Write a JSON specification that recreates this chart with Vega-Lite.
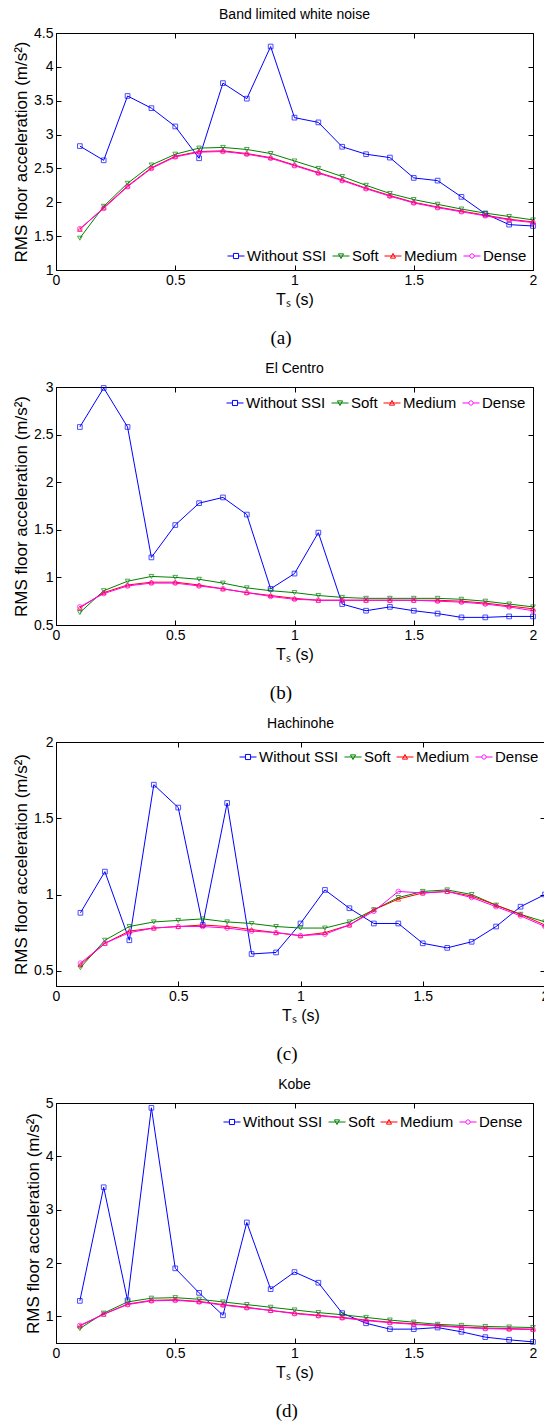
{
  "$schema": "https://vega.github.io/schema/vega-lite/v6.json",
  "background": "white",
  "padding": {"left": 12, "top": 7, "right": 0, "bottom": 0},
  "spacing": 13,
  "resolve": {"scale": {"color": "independent", "shape": "independent"}, "legend": {"color": "independent", "shape": "independent"}},
  "config": {
    "font": "Liberation Sans",
    "view": {"stroke": "black", "strokeWidth": 1},
    "axis": {"grid": false, "domainColor": "black", "tickColor": "black", "labelColor": "black", "titleColor": "black", "labelFont": "Liberation Sans", "labelFontSize": 14, "titleFont": "Liberation Sans", "titleFontSize": 16, "titleFontWeight": "normal", "tickSize": -5, "labelPadding": 8, "labelFlush": false, "format": "~g"},
    "axisY": {"titleFontSize": 17},
    "title": {"font": "Liberation Sans", "fontSize": 14, "fontWeight": "normal", "color": "black", "frame": "group", "offset": 4},
    "legend": {"labelFont": "Liberation Sans", "labelFontSize": 15, "labelColor": "black", "symbolSize": 289, "symbolStrokeWidth": 1, "symbolOpacity": 1, "symbolFillColor": "transparent", "labelOffset": 2, "columnPadding": 3, "padding": 0}
  },
  "data": {"values": [
    {"panel":"a","series":"Without SSI","Ts":0.1,"value":2.83},{"panel":"a","series":"Without SSI","Ts":0.2,"value":2.62},{"panel":"a","series":"Without SSI","Ts":0.3,"value":3.57},{"panel":"a","series":"Without SSI","Ts":0.4,"value":3.39},{"panel":"a","series":"Without SSI","Ts":0.5,"value":3.12},{"panel":"a","series":"Without SSI","Ts":0.6,"value":2.65},{"panel":"a","series":"Without SSI","Ts":0.7,"value":3.76},{"panel":"a","series":"Without SSI","Ts":0.8,"value":3.53},{"panel":"a","series":"Without SSI","Ts":0.9,"value":4.30},{"panel":"a","series":"Without SSI","Ts":1.0,"value":3.25},{"panel":"a","series":"Without SSI","Ts":1.1,"value":3.18},{"panel":"a","series":"Without SSI","Ts":1.2,"value":2.82},{"panel":"a","series":"Without SSI","Ts":1.3,"value":2.71},{"panel":"a","series":"Without SSI","Ts":1.4,"value":2.66},{"panel":"a","series":"Without SSI","Ts":1.5,"value":2.36},{"panel":"a","series":"Without SSI","Ts":1.6,"value":2.32},{"panel":"a","series":"Without SSI","Ts":1.7,"value":2.08},{"panel":"a","series":"Without SSI","Ts":1.8,"value":1.83},{"panel":"a","series":"Without SSI","Ts":1.9,"value":1.67},{"panel":"a","series":"Without SSI","Ts":2.0,"value":1.65},
    {"panel":"a","series":"Soft","Ts":0.1,"value":1.47},{"panel":"a","series":"Soft","Ts":0.2,"value":1.94},{"panel":"a","series":"Soft","Ts":0.3,"value":2.28},{"panel":"a","series":"Soft","Ts":0.4,"value":2.55},{"panel":"a","series":"Soft","Ts":0.5,"value":2.71},{"panel":"a","series":"Soft","Ts":0.6,"value":2.80},{"panel":"a","series":"Soft","Ts":0.7,"value":2.81},{"panel":"a","series":"Soft","Ts":0.8,"value":2.78},{"panel":"a","series":"Soft","Ts":0.9,"value":2.72},{"panel":"a","series":"Soft","Ts":1.0,"value":2.61},{"panel":"a","series":"Soft","Ts":1.1,"value":2.50},{"panel":"a","series":"Soft","Ts":1.2,"value":2.38},{"panel":"a","series":"Soft","Ts":1.3,"value":2.25},{"panel":"a","series":"Soft","Ts":1.4,"value":2.13},{"panel":"a","series":"Soft","Ts":1.5,"value":2.04},{"panel":"a","series":"Soft","Ts":1.6,"value":1.97},{"panel":"a","series":"Soft","Ts":1.7,"value":1.90},{"panel":"a","series":"Soft","Ts":1.8,"value":1.84},{"panel":"a","series":"Soft","Ts":1.9,"value":1.79},{"panel":"a","series":"Soft","Ts":2.0,"value":1.74},
    {"panel":"a","series":"Medium","Ts":0.1,"value":1.60},{"panel":"a","series":"Medium","Ts":0.2,"value":1.92},{"panel":"a","series":"Medium","Ts":0.3,"value":2.24},{"panel":"a","series":"Medium","Ts":0.4,"value":2.51},{"panel":"a","series":"Medium","Ts":0.5,"value":2.68},{"panel":"a","series":"Medium","Ts":0.6,"value":2.75},{"panel":"a","series":"Medium","Ts":0.7,"value":2.76},{"panel":"a","series":"Medium","Ts":0.8,"value":2.72},{"panel":"a","series":"Medium","Ts":0.9,"value":2.66},{"panel":"a","series":"Medium","Ts":1.0,"value":2.55},{"panel":"a","series":"Medium","Ts":1.1,"value":2.44},{"panel":"a","series":"Medium","Ts":1.2,"value":2.33},{"panel":"a","series":"Medium","Ts":1.3,"value":2.21},{"panel":"a","series":"Medium","Ts":1.4,"value":2.10},{"panel":"a","series":"Medium","Ts":1.5,"value":2.00},{"panel":"a","series":"Medium","Ts":1.6,"value":1.93},{"panel":"a","series":"Medium","Ts":1.7,"value":1.87},{"panel":"a","series":"Medium","Ts":1.8,"value":1.81},{"panel":"a","series":"Medium","Ts":1.9,"value":1.75},{"panel":"a","series":"Medium","Ts":2.0,"value":1.71},
    {"panel":"a","series":"Dense","Ts":0.1,"value":1.61},{"panel":"a","series":"Dense","Ts":0.2,"value":1.91},{"panel":"a","series":"Dense","Ts":0.3,"value":2.23},{"panel":"a","series":"Dense","Ts":0.4,"value":2.50},{"panel":"a","series":"Dense","Ts":0.5,"value":2.67},{"panel":"a","series":"Dense","Ts":0.6,"value":2.74},{"panel":"a","series":"Dense","Ts":0.7,"value":2.75},{"panel":"a","series":"Dense","Ts":0.8,"value":2.71},{"panel":"a","series":"Dense","Ts":0.9,"value":2.65},{"panel":"a","series":"Dense","Ts":1.0,"value":2.54},{"panel":"a","series":"Dense","Ts":1.1,"value":2.43},{"panel":"a","series":"Dense","Ts":1.2,"value":2.32},{"panel":"a","series":"Dense","Ts":1.3,"value":2.20},{"panel":"a","series":"Dense","Ts":1.4,"value":2.09},{"panel":"a","series":"Dense","Ts":1.5,"value":1.99},{"panel":"a","series":"Dense","Ts":1.6,"value":1.92},{"panel":"a","series":"Dense","Ts":1.7,"value":1.86},{"panel":"a","series":"Dense","Ts":1.8,"value":1.80},{"panel":"a","series":"Dense","Ts":1.9,"value":1.74},{"panel":"a","series":"Dense","Ts":2.0,"value":1.70},
    {"panel":"b","series":"Without SSI","Ts":0.1,"value":2.58},{"panel":"b","series":"Without SSI","Ts":0.2,"value":2.99},{"panel":"b","series":"Without SSI","Ts":0.3,"value":2.58},{"panel":"b","series":"Without SSI","Ts":0.4,"value":1.21},{"panel":"b","series":"Without SSI","Ts":0.5,"value":1.55},{"panel":"b","series":"Without SSI","Ts":0.6,"value":1.78},{"panel":"b","series":"Without SSI","Ts":0.7,"value":1.84},{"panel":"b","series":"Without SSI","Ts":0.8,"value":1.66},{"panel":"b","series":"Without SSI","Ts":0.9,"value":0.88},{"panel":"b","series":"Without SSI","Ts":1.0,"value":1.04},{"panel":"b","series":"Without SSI","Ts":1.1,"value":1.47},{"panel":"b","series":"Without SSI","Ts":1.2,"value":0.72},{"panel":"b","series":"Without SSI","Ts":1.3,"value":0.65},{"panel":"b","series":"Without SSI","Ts":1.4,"value":0.69},{"panel":"b","series":"Without SSI","Ts":1.5,"value":0.65},{"panel":"b","series":"Without SSI","Ts":1.6,"value":0.62},{"panel":"b","series":"Without SSI","Ts":1.7,"value":0.58},{"panel":"b","series":"Without SSI","Ts":1.8,"value":0.58},{"panel":"b","series":"Without SSI","Ts":1.9,"value":0.59},{"panel":"b","series":"Without SSI","Ts":2.0,"value":0.59},
    {"panel":"b","series":"Soft","Ts":0.1,"value":0.63},{"panel":"b","series":"Soft","Ts":0.2,"value":0.86},{"panel":"b","series":"Soft","Ts":0.3,"value":0.96},{"panel":"b","series":"Soft","Ts":0.4,"value":1.01},{"panel":"b","series":"Soft","Ts":0.5,"value":1.00},{"panel":"b","series":"Soft","Ts":0.6,"value":0.98},{"panel":"b","series":"Soft","Ts":0.7,"value":0.94},{"panel":"b","series":"Soft","Ts":0.8,"value":0.89},{"panel":"b","series":"Soft","Ts":0.9,"value":0.86},{"panel":"b","series":"Soft","Ts":1.0,"value":0.84},{"panel":"b","series":"Soft","Ts":1.1,"value":0.81},{"panel":"b","series":"Soft","Ts":1.2,"value":0.79},{"panel":"b","series":"Soft","Ts":1.3,"value":0.78},{"panel":"b","series":"Soft","Ts":1.4,"value":0.78},{"panel":"b","series":"Soft","Ts":1.5,"value":0.78},{"panel":"b","series":"Soft","Ts":1.6,"value":0.78},{"panel":"b","series":"Soft","Ts":1.7,"value":0.77},{"panel":"b","series":"Soft","Ts":1.8,"value":0.75},{"panel":"b","series":"Soft","Ts":1.9,"value":0.72},{"panel":"b","series":"Soft","Ts":2.0,"value":0.69},
    {"panel":"b","series":"Medium","Ts":0.1,"value":0.68},{"panel":"b","series":"Medium","Ts":0.2,"value":0.84},{"panel":"b","series":"Medium","Ts":0.3,"value":0.92},{"panel":"b","series":"Medium","Ts":0.4,"value":0.95},{"panel":"b","series":"Medium","Ts":0.5,"value":0.95},{"panel":"b","series":"Medium","Ts":0.6,"value":0.92},{"panel":"b","series":"Medium","Ts":0.7,"value":0.88},{"panel":"b","series":"Medium","Ts":0.8,"value":0.84},{"panel":"b","series":"Medium","Ts":0.9,"value":0.81},{"panel":"b","series":"Medium","Ts":1.0,"value":0.78},{"panel":"b","series":"Medium","Ts":1.1,"value":0.76},{"panel":"b","series":"Medium","Ts":1.2,"value":0.76},{"panel":"b","series":"Medium","Ts":1.3,"value":0.76},{"panel":"b","series":"Medium","Ts":1.4,"value":0.76},{"panel":"b","series":"Medium","Ts":1.5,"value":0.76},{"panel":"b","series":"Medium","Ts":1.6,"value":0.76},{"panel":"b","series":"Medium","Ts":1.7,"value":0.75},{"panel":"b","series":"Medium","Ts":1.8,"value":0.73},{"panel":"b","series":"Medium","Ts":1.9,"value":0.70},{"panel":"b","series":"Medium","Ts":2.0,"value":0.67},
    {"panel":"b","series":"Dense","Ts":0.1,"value":0.69},{"panel":"b","series":"Dense","Ts":0.2,"value":0.83},{"panel":"b","series":"Dense","Ts":0.3,"value":0.91},{"panel":"b","series":"Dense","Ts":0.4,"value":0.94},{"panel":"b","series":"Dense","Ts":0.5,"value":0.94},{"panel":"b","series":"Dense","Ts":0.6,"value":0.91},{"panel":"b","series":"Dense","Ts":0.7,"value":0.88},{"panel":"b","series":"Dense","Ts":0.8,"value":0.84},{"panel":"b","series":"Dense","Ts":0.9,"value":0.80},{"panel":"b","series":"Dense","Ts":1.0,"value":0.77},{"panel":"b","series":"Dense","Ts":1.1,"value":0.76},{"panel":"b","series":"Dense","Ts":1.2,"value":0.76},{"panel":"b","series":"Dense","Ts":1.3,"value":0.76},{"panel":"b","series":"Dense","Ts":1.4,"value":0.76},{"panel":"b","series":"Dense","Ts":1.5,"value":0.76},{"panel":"b","series":"Dense","Ts":1.6,"value":0.75},{"panel":"b","series":"Dense","Ts":1.7,"value":0.74},{"panel":"b","series":"Dense","Ts":1.8,"value":0.72},{"panel":"b","series":"Dense","Ts":1.9,"value":0.69},{"panel":"b","series":"Dense","Ts":2.0,"value":0.65},
    {"panel":"c","series":"Without SSI","Ts":0.1,"value":0.88},{"panel":"c","series":"Without SSI","Ts":0.2,"value":1.15},{"panel":"c","series":"Without SSI","Ts":0.3,"value":0.70},{"panel":"c","series":"Without SSI","Ts":0.4,"value":1.72},{"panel":"c","series":"Without SSI","Ts":0.5,"value":1.57},{"panel":"c","series":"Without SSI","Ts":0.6,"value":0.80},{"panel":"c","series":"Without SSI","Ts":0.7,"value":1.60},{"panel":"c","series":"Without SSI","Ts":0.8,"value":0.61},{"panel":"c","series":"Without SSI","Ts":0.9,"value":0.62},{"panel":"c","series":"Without SSI","Ts":1.0,"value":0.81},{"panel":"c","series":"Without SSI","Ts":1.1,"value":1.03},{"panel":"c","series":"Without SSI","Ts":1.2,"value":0.91},{"panel":"c","series":"Without SSI","Ts":1.3,"value":0.81},{"panel":"c","series":"Without SSI","Ts":1.4,"value":0.81},{"panel":"c","series":"Without SSI","Ts":1.5,"value":0.68},{"panel":"c","series":"Without SSI","Ts":1.6,"value":0.65},{"panel":"c","series":"Without SSI","Ts":1.7,"value":0.69},{"panel":"c","series":"Without SSI","Ts":1.8,"value":0.79},{"panel":"c","series":"Without SSI","Ts":1.9,"value":0.92},{"panel":"c","series":"Without SSI","Ts":2.0,"value":1.00},
    {"panel":"c","series":"Soft","Ts":0.1,"value":0.52},{"panel":"c","series":"Soft","Ts":0.2,"value":0.70},{"panel":"c","series":"Soft","Ts":0.3,"value":0.79},{"panel":"c","series":"Soft","Ts":0.4,"value":0.82},{"panel":"c","series":"Soft","Ts":0.5,"value":0.83},{"panel":"c","series":"Soft","Ts":0.6,"value":0.84},{"panel":"c","series":"Soft","Ts":0.7,"value":0.82},{"panel":"c","series":"Soft","Ts":0.8,"value":0.81},{"panel":"c","series":"Soft","Ts":0.9,"value":0.79},{"panel":"c","series":"Soft","Ts":1.0,"value":0.78},{"panel":"c","series":"Soft","Ts":1.1,"value":0.78},{"panel":"c","series":"Soft","Ts":1.2,"value":0.82},{"panel":"c","series":"Soft","Ts":1.3,"value":0.90},{"panel":"c","series":"Soft","Ts":1.4,"value":0.98},{"panel":"c","series":"Soft","Ts":1.5,"value":1.02},{"panel":"c","series":"Soft","Ts":1.6,"value":1.03},{"panel":"c","series":"Soft","Ts":1.7,"value":1.00},{"panel":"c","series":"Soft","Ts":1.8,"value":0.93},{"panel":"c","series":"Soft","Ts":1.9,"value":0.87},{"panel":"c","series":"Soft","Ts":2.0,"value":0.82},
    {"panel":"c","series":"Medium","Ts":0.1,"value":0.54},{"panel":"c","series":"Medium","Ts":0.2,"value":0.68},{"panel":"c","series":"Medium","Ts":0.3,"value":0.76},{"panel":"c","series":"Medium","Ts":0.4,"value":0.78},{"panel":"c","series":"Medium","Ts":0.5,"value":0.79},{"panel":"c","series":"Medium","Ts":0.6,"value":0.80},{"panel":"c","series":"Medium","Ts":0.7,"value":0.79},{"panel":"c","series":"Medium","Ts":0.8,"value":0.77},{"panel":"c","series":"Medium","Ts":0.9,"value":0.75},{"panel":"c","series":"Medium","Ts":1.0,"value":0.73},{"panel":"c","series":"Medium","Ts":1.1,"value":0.75},{"panel":"c","series":"Medium","Ts":1.2,"value":0.80},{"panel":"c","series":"Medium","Ts":1.3,"value":0.90},{"panel":"c","series":"Medium","Ts":1.4,"value":0.97},{"panel":"c","series":"Medium","Ts":1.5,"value":1.01},{"panel":"c","series":"Medium","Ts":1.6,"value":1.02},{"panel":"c","series":"Medium","Ts":1.7,"value":0.99},{"panel":"c","series":"Medium","Ts":1.8,"value":0.93},{"panel":"c","series":"Medium","Ts":1.9,"value":0.87},{"panel":"c","series":"Medium","Ts":2.0,"value":0.80},
    {"panel":"c","series":"Dense","Ts":0.1,"value":0.55},{"panel":"c","series":"Dense","Ts":0.2,"value":0.68},{"panel":"c","series":"Dense","Ts":0.3,"value":0.75},{"panel":"c","series":"Dense","Ts":0.4,"value":0.78},{"panel":"c","series":"Dense","Ts":0.5,"value":0.79},{"panel":"c","series":"Dense","Ts":0.6,"value":0.79},{"panel":"c","series":"Dense","Ts":0.7,"value":0.78},{"panel":"c","series":"Dense","Ts":0.8,"value":0.76},{"panel":"c","series":"Dense","Ts":0.9,"value":0.75},{"panel":"c","series":"Dense","Ts":1.0,"value":0.73},{"panel":"c","series":"Dense","Ts":1.1,"value":0.74},{"panel":"c","series":"Dense","Ts":1.2,"value":0.80},{"panel":"c","series":"Dense","Ts":1.3,"value":0.89},{"panel":"c","series":"Dense","Ts":1.4,"value":1.02},{"panel":"c","series":"Dense","Ts":1.5,"value":1.01},{"panel":"c","series":"Dense","Ts":1.6,"value":1.02},{"panel":"c","series":"Dense","Ts":1.7,"value":0.98},{"panel":"c","series":"Dense","Ts":1.8,"value":0.92},{"panel":"c","series":"Dense","Ts":1.9,"value":0.86},{"panel":"c","series":"Dense","Ts":2.0,"value":0.79},
    {"panel":"d","series":"Without SSI","Ts":0.1,"value":1.29},{"panel":"d","series":"Without SSI","Ts":0.2,"value":3.42},{"panel":"d","series":"Without SSI","Ts":0.3,"value":1.30},{"panel":"d","series":"Without SSI","Ts":0.4,"value":4.91},{"panel":"d","series":"Without SSI","Ts":0.5,"value":1.90},{"panel":"d","series":"Without SSI","Ts":0.6,"value":1.44},{"panel":"d","series":"Without SSI","Ts":0.7,"value":1.02},{"panel":"d","series":"Without SSI","Ts":0.8,"value":2.76},{"panel":"d","series":"Without SSI","Ts":0.9,"value":1.51},{"panel":"d","series":"Without SSI","Ts":1.0,"value":1.83},{"panel":"d","series":"Without SSI","Ts":1.1,"value":1.63},{"panel":"d","series":"Without SSI","Ts":1.2,"value":1.06},{"panel":"d","series":"Without SSI","Ts":1.3,"value":0.87},{"panel":"d","series":"Without SSI","Ts":1.4,"value":0.76},{"panel":"d","series":"Without SSI","Ts":1.5,"value":0.76},{"panel":"d","series":"Without SSI","Ts":1.6,"value":0.79},{"panel":"d","series":"Without SSI","Ts":1.7,"value":0.71},{"panel":"d","series":"Without SSI","Ts":1.8,"value":0.61},{"panel":"d","series":"Without SSI","Ts":1.9,"value":0.56},{"panel":"d","series":"Without SSI","Ts":2.0,"value":0.52},
    {"panel":"d","series":"Soft","Ts":0.1,"value":0.77},{"panel":"d","series":"Soft","Ts":0.2,"value":1.06},{"panel":"d","series":"Soft","Ts":0.3,"value":1.27},{"panel":"d","series":"Soft","Ts":0.4,"value":1.34},{"panel":"d","series":"Soft","Ts":0.5,"value":1.35},{"panel":"d","series":"Soft","Ts":0.6,"value":1.32},{"panel":"d","series":"Soft","Ts":0.7,"value":1.27},{"panel":"d","series":"Soft","Ts":0.8,"value":1.22},{"panel":"d","series":"Soft","Ts":0.9,"value":1.17},{"panel":"d","series":"Soft","Ts":1.0,"value":1.12},{"panel":"d","series":"Soft","Ts":1.1,"value":1.07},{"panel":"d","series":"Soft","Ts":1.2,"value":1.03},{"panel":"d","series":"Soft","Ts":1.3,"value":0.98},{"panel":"d","series":"Soft","Ts":1.4,"value":0.93},{"panel":"d","series":"Soft","Ts":1.5,"value":0.89},{"panel":"d","series":"Soft","Ts":1.6,"value":0.85},{"panel":"d","series":"Soft","Ts":1.7,"value":0.83},{"panel":"d","series":"Soft","Ts":1.8,"value":0.81},{"panel":"d","series":"Soft","Ts":1.9,"value":0.80},{"panel":"d","series":"Soft","Ts":2.0,"value":0.79},
    {"panel":"d","series":"Medium","Ts":0.1,"value":0.82},{"panel":"d","series":"Medium","Ts":0.2,"value":1.04},{"panel":"d","series":"Medium","Ts":0.3,"value":1.23},{"panel":"d","series":"Medium","Ts":0.4,"value":1.30},{"panel":"d","series":"Medium","Ts":0.5,"value":1.31},{"panel":"d","series":"Medium","Ts":0.6,"value":1.28},{"panel":"d","series":"Medium","Ts":0.7,"value":1.22},{"panel":"d","series":"Medium","Ts":0.8,"value":1.17},{"panel":"d","series":"Medium","Ts":0.9,"value":1.11},{"panel":"d","series":"Medium","Ts":1.0,"value":1.06},{"panel":"d","series":"Medium","Ts":1.1,"value":1.02},{"panel":"d","series":"Medium","Ts":1.2,"value":0.98},{"panel":"d","series":"Medium","Ts":1.3,"value":0.93},{"panel":"d","series":"Medium","Ts":1.4,"value":0.89},{"panel":"d","series":"Medium","Ts":1.5,"value":0.86},{"panel":"d","series":"Medium","Ts":1.6,"value":0.83},{"panel":"d","series":"Medium","Ts":1.7,"value":0.80},{"panel":"d","series":"Medium","Ts":1.8,"value":0.78},{"panel":"d","series":"Medium","Ts":1.9,"value":0.77},{"panel":"d","series":"Medium","Ts":2.0,"value":0.76},
    {"panel":"d","series":"Dense","Ts":0.1,"value":0.83},{"panel":"d","series":"Dense","Ts":0.2,"value":1.04},{"panel":"d","series":"Dense","Ts":0.3,"value":1.22},{"panel":"d","series":"Dense","Ts":0.4,"value":1.29},{"panel":"d","series":"Dense","Ts":0.5,"value":1.30},{"panel":"d","series":"Dense","Ts":0.6,"value":1.27},{"panel":"d","series":"Dense","Ts":0.7,"value":1.21},{"panel":"d","series":"Dense","Ts":0.8,"value":1.16},{"panel":"d","series":"Dense","Ts":0.9,"value":1.11},{"panel":"d","series":"Dense","Ts":1.0,"value":1.05},{"panel":"d","series":"Dense","Ts":1.1,"value":1.01},{"panel":"d","series":"Dense","Ts":1.2,"value":0.97},{"panel":"d","series":"Dense","Ts":1.3,"value":0.92},{"panel":"d","series":"Dense","Ts":1.4,"value":0.88},{"panel":"d","series":"Dense","Ts":1.5,"value":0.85},{"panel":"d","series":"Dense","Ts":1.6,"value":0.82},{"panel":"d","series":"Dense","Ts":1.7,"value":0.79},{"panel":"d","series":"Dense","Ts":1.8,"value":0.77},{"panel":"d","series":"Dense","Ts":1.9,"value":0.76},{"panel":"d","series":"Dense","Ts":2.0,"value":0.75}
  ]},
  "vconcat": [
    {
      "title": {"text": "(a)", "orient": "bottom", "anchor": "middle", "frame": "bounds", "dx": 6, "font": "Liberation Serif", "fontSize": 19, "offset": 21},
      "resolve": {"scale": {"color": "independent", "shape": "independent"}, "legend": {"color": "independent", "shape": "independent"}},
      "vconcat": [{
        "title": {"text": "Band limited white noise"},
        "width": 477, "height": 237,
        "transform": [{"filter": "datum.panel === 'a'"}],
        "resolve": {"axis": {"x": "independent", "y": "independent"}},
        "layer": [
          {"mark": {"type": "line", "strokeWidth": 1},
           "encoding": {
             "x": {"field": "Ts", "type": "quantitative", "scale": {"domain": [0, 2], "nice": false}, "axis": {"values": [0, 0.5, 1, 1.5, 2], "title": "Tₛ (s)", "titlePadding": 4}},
             "y": {"field": "value", "type": "quantitative", "scale": {"domain": [1, 4.5], "nice": false, "zero": false}, "axis": {"values": [1, 1.5, 2, 2.5, 3, 3.5, 4, 4.5], "title": "RMS floor acceleration (m/s²)", "titlePadding": 3}},
             "color": {"field": "series", "type": "nominal", "scale": {"domain": ["Without SSI", "Soft", "Medium", "Dense"], "range": ["#0000ff", "#008000", "#ff0000", "#ff00ff"]}, "legend": {"title": null, "orient": "bottom-right", "direction": "horizontal", "offset": 6, "symbolSize": 289, "symbolOpacity": 1}}
           }},
          {"mark": {"type": "point", "filled": false, "size": 22, "strokeWidth": 1, "shape": {"expr": "datum.series === 'Without SSI' ? 'square' : datum.series === 'Soft' ? 'triangle-down' : datum.series === 'Medium' ? 'triangle-up' : 'circle'"}},
           "encoding": {
             "x": {"field": "Ts", "type": "quantitative", "axis": null},
             "y": {"field": "value", "type": "quantitative", "axis": null},
             "color": {"field": "series", "type": "nominal"}
           }},
          {"mark": {"type": "point", "filled": false, "size": 0, "strokeWidth": 1},
           "encoding": {
             "x": {"field": "Ts", "type": "quantitative", "axis": {"orient": "top", "values": [0, 0.5, 1, 1.5, 2], "labels": false, "title": null, "domain": false}},
             "y": {"field": "value", "type": "quantitative", "axis": {"orient": "right", "values": [1, 1.5, 2, 2.5, 3, 3.5, 4, 4.5], "labels": false, "title": null, "domain": false}},
             "color": {"field": "series", "type": "nominal", "legend": {"title": null, "orient": "bottom-right", "direction": "horizontal", "offset": 6, "symbolSize": 289, "symbolOpacity": 1}},
             "shape": {"field": "series", "type": "nominal", "scale": {"domain": ["Without SSI", "Soft", "Medium", "Dense"], "range": ["M-1,0H-0.3M0.3,0H1M-0.3,-0.3H0.3V0.3H-0.3Z", "M-1,0H1M-0.3,-0.25L0.3,-0.25L0,0.3Z", "M-1,0H1M-0.3,0.25L0.3,0.25L0,-0.3Z", "M-1,0H-0.25M0.25,0H1M0.25,0A0.25,0.25 0 1 1 -0.25,0A0.25,0.25 0 1 1 0.25,0Z"]}, "legend": {"title": null, "orient": "bottom-right", "direction": "horizontal", "offset": 6, "symbolSize": 289, "symbolOpacity": 1}}
           }}
        ]
      }]
    },
    {
      "title": {"text": "(b)", "orient": "bottom", "anchor": "middle", "frame": "bounds", "dx": 6, "font": "Liberation Serif", "fontSize": 19, "offset": 21},
      "resolve": {"scale": {"color": "independent", "shape": "independent"}, "legend": {"color": "independent", "shape": "independent"}},
      "vconcat": [{
        "title": {"text": "El Centro"},
        "width": 477, "height": 238,
        "transform": [{"filter": "datum.panel === 'b'"}],
        "resolve": {"axis": {"x": "independent", "y": "independent"}},
        "layer": [
          {"mark": {"type": "line", "strokeWidth": 1},
           "encoding": {
             "x": {"field": "Ts", "type": "quantitative", "scale": {"domain": [0, 2], "nice": false}, "axis": {"values": [0, 0.5, 1, 1.5, 2], "title": "Tₛ (s)", "titlePadding": 4}},
             "y": {"field": "value", "type": "quantitative", "scale": {"domain": [0.5, 3], "nice": false, "zero": false}, "axis": {"values": [0.5, 1, 1.5, 2, 2.5, 3], "title": "RMS floor acceleration (m/s²)", "titlePadding": 3}},
             "color": {"field": "series", "type": "nominal", "scale": {"domain": ["Without SSI", "Soft", "Medium", "Dense"], "range": ["#0000ff", "#008000", "#ff0000", "#ff00ff"]}, "legend": {"title": null, "orient": "top-right", "direction": "horizontal", "offset": 7, "symbolSize": 289, "symbolOpacity": 1}}
           }},
          {"mark": {"type": "point", "filled": false, "size": 22, "strokeWidth": 1, "shape": {"expr": "datum.series === 'Without SSI' ? 'square' : datum.series === 'Soft' ? 'triangle-down' : datum.series === 'Medium' ? 'triangle-up' : 'circle'"}},
           "encoding": {
             "x": {"field": "Ts", "type": "quantitative", "axis": null},
             "y": {"field": "value", "type": "quantitative", "axis": null},
             "color": {"field": "series", "type": "nominal"}
           }},
          {"mark": {"type": "point", "filled": false, "size": 0, "strokeWidth": 1},
           "encoding": {
             "x": {"field": "Ts", "type": "quantitative", "axis": {"orient": "top", "values": [0, 0.5, 1, 1.5, 2], "labels": false, "title": null, "domain": false}},
             "y": {"field": "value", "type": "quantitative", "axis": {"orient": "right", "values": [0.5, 1, 1.5, 2, 2.5, 3], "labels": false, "title": null, "domain": false}},
             "color": {"field": "series", "type": "nominal", "legend": {"title": null, "orient": "top-right", "direction": "horizontal", "offset": 7, "symbolSize": 289, "symbolOpacity": 1}},
             "shape": {"field": "series", "type": "nominal", "scale": {"domain": ["Without SSI", "Soft", "Medium", "Dense"], "range": ["M-1,0H-0.3M0.3,0H1M-0.3,-0.3H0.3V0.3H-0.3Z", "M-1,0H1M-0.3,-0.25L0.3,-0.25L0,0.3Z", "M-1,0H1M-0.3,0.25L0.3,0.25L0,-0.3Z", "M-1,0H-0.25M0.25,0H1M0.25,0A0.25,0.25 0 1 1 -0.25,0A0.25,0.25 0 1 1 0.25,0Z"]}, "legend": {"title": null, "orient": "top-right", "direction": "horizontal", "offset": 7, "symbolSize": 289, "symbolOpacity": 1}}
           }}
        ]
      }]
    },
    {
      "title": {"text": "(c)", "orient": "bottom", "anchor": "middle", "frame": "bounds", "dx": 6, "font": "Liberation Serif", "fontSize": 19, "offset": 21},
      "resolve": {"scale": {"color": "independent", "shape": "independent"}, "legend": {"color": "independent", "shape": "independent"}},
      "vconcat": [{
        "title": {"text": "Hachinohe"},
        "width": 489, "height": 244,
        "transform": [{"filter": "datum.panel === 'c'"}],
        "resolve": {"axis": {"x": "independent", "y": "independent"}},
        "layer": [
          {"mark": {"type": "line", "strokeWidth": 1},
           "encoding": {
             "x": {"field": "Ts", "type": "quantitative", "scale": {"domain": [0, 2], "nice": false}, "axis": {"values": [0, 0.5, 1, 1.5, 2], "title": "Tₛ (s)", "titlePadding": 4}},
             "y": {"field": "value", "type": "quantitative", "scale": {"domain": [0.4, 2], "nice": false, "zero": false}, "axis": {"values": [0.5, 1, 1.5, 2], "title": "RMS floor acceleration (m/s²)", "titlePadding": 3}},
             "color": {"field": "series", "type": "nominal", "scale": {"domain": ["Without SSI", "Soft", "Medium", "Dense"], "range": ["#0000ff", "#008000", "#ff0000", "#ff00ff"]}, "legend": {"title": null, "orient": "top-right", "direction": "horizontal", "offset": 6, "symbolSize": 289, "symbolOpacity": 1}}
           }},
          {"mark": {"type": "point", "filled": false, "size": 22, "strokeWidth": 1, "shape": {"expr": "datum.series === 'Without SSI' ? 'square' : datum.series === 'Soft' ? 'triangle-down' : datum.series === 'Medium' ? 'triangle-up' : 'circle'"}},
           "encoding": {
             "x": {"field": "Ts", "type": "quantitative", "axis": null},
             "y": {"field": "value", "type": "quantitative", "axis": null},
             "color": {"field": "series", "type": "nominal"}
           }},
          {"mark": {"type": "point", "filled": false, "size": 0, "strokeWidth": 1},
           "encoding": {
             "x": {"field": "Ts", "type": "quantitative", "axis": {"orient": "top", "values": [0, 0.5, 1, 1.5, 2], "labels": false, "title": null, "domain": false}},
             "y": {"field": "value", "type": "quantitative", "axis": {"orient": "right", "values": [0.5, 1, 1.5, 2], "labels": false, "title": null, "domain": false}},
             "color": {"field": "series", "type": "nominal", "legend": {"title": null, "orient": "top-right", "direction": "horizontal", "offset": 6, "symbolSize": 289, "symbolOpacity": 1}},
             "shape": {"field": "series", "type": "nominal", "scale": {"domain": ["Without SSI", "Soft", "Medium", "Dense"], "range": ["M-1,0H-0.3M0.3,0H1M-0.3,-0.3H0.3V0.3H-0.3Z", "M-1,0H1M-0.3,-0.25L0.3,-0.25L0,0.3Z", "M-1,0H1M-0.3,0.25L0.3,0.25L0,-0.3Z", "M-1,0H-0.25M0.25,0H1M0.25,0A0.25,0.25 0 1 1 -0.25,0A0.25,0.25 0 1 1 0.25,0Z"]}, "legend": {"title": null, "orient": "top-right", "direction": "horizontal", "offset": 6, "symbolSize": 289, "symbolOpacity": 1}}
           }}
        ]
      }]
    },
    {
      "title": {"text": "(d)", "orient": "bottom", "anchor": "middle", "frame": "bounds", "dx": 6, "font": "Liberation Serif", "fontSize": 19, "offset": 21},
      "resolve": {"scale": {"color": "independent", "shape": "independent"}, "legend": {"color": "independent", "shape": "independent"}},
      "vconcat": [{
        "title": {"text": "Kobe"},
        "width": 477, "height": 240,
        "transform": [{"filter": "datum.panel === 'd'"}],
        "resolve": {"axis": {"x": "independent", "y": "independent"}},
        "layer": [
          {"mark": {"type": "line", "strokeWidth": 1},
           "encoding": {
             "x": {"field": "Ts", "type": "quantitative", "scale": {"domain": [0, 2], "nice": false}, "axis": {"values": [0, 0.5, 1, 1.5, 2], "title": "Tₛ (s)", "titlePadding": 4}},
             "y": {"field": "value", "type": "quantitative", "scale": {"domain": [0.5, 5], "nice": false, "zero": false}, "axis": {"values": [1, 2, 3, 4, 5], "title": "RMS floor acceleration (m/s²)", "titlePadding": 3}},
             "color": {"field": "series", "type": "nominal", "scale": {"domain": ["Without SSI", "Soft", "Medium", "Dense"], "range": ["#0000ff", "#008000", "#ff0000", "#ff00ff"]}, "legend": {"title": null, "orient": "top-right", "direction": "horizontal", "offset": 10, "symbolSize": 289, "symbolOpacity": 1}}
           }},
          {"mark": {"type": "point", "filled": false, "size": 22, "strokeWidth": 1, "shape": {"expr": "datum.series === 'Without SSI' ? 'square' : datum.series === 'Soft' ? 'triangle-down' : datum.series === 'Medium' ? 'triangle-up' : 'circle'"}},
           "encoding": {
             "x": {"field": "Ts", "type": "quantitative", "axis": null},
             "y": {"field": "value", "type": "quantitative", "axis": null},
             "color": {"field": "series", "type": "nominal"}
           }},
          {"mark": {"type": "point", "filled": false, "size": 0, "strokeWidth": 1},
           "encoding": {
             "x": {"field": "Ts", "type": "quantitative", "axis": {"orient": "top", "values": [0, 0.5, 1, 1.5, 2], "labels": false, "title": null, "domain": false}},
             "y": {"field": "value", "type": "quantitative", "axis": {"orient": "right", "values": [1, 2, 3, 4, 5], "labels": false, "title": null, "domain": false}},
             "color": {"field": "series", "type": "nominal", "legend": {"title": null, "orient": "top-right", "direction": "horizontal", "offset": 10, "symbolSize": 289, "symbolOpacity": 1}},
             "shape": {"field": "series", "type": "nominal", "scale": {"domain": ["Without SSI", "Soft", "Medium", "Dense"], "range": ["M-1,0H-0.3M0.3,0H1M-0.3,-0.3H0.3V0.3H-0.3Z", "M-1,0H1M-0.3,-0.25L0.3,-0.25L0,0.3Z", "M-1,0H1M-0.3,0.25L0.3,0.25L0,-0.3Z", "M-1,0H-0.25M0.25,0H1M0.25,0A0.25,0.25 0 1 1 -0.25,0A0.25,0.25 0 1 1 0.25,0Z"]}, "legend": {"title": null, "orient": "top-right", "direction": "horizontal", "offset": 10, "symbolSize": 289, "symbolOpacity": 1}}
           }}
        ]
      }]
    }
  ]
}
